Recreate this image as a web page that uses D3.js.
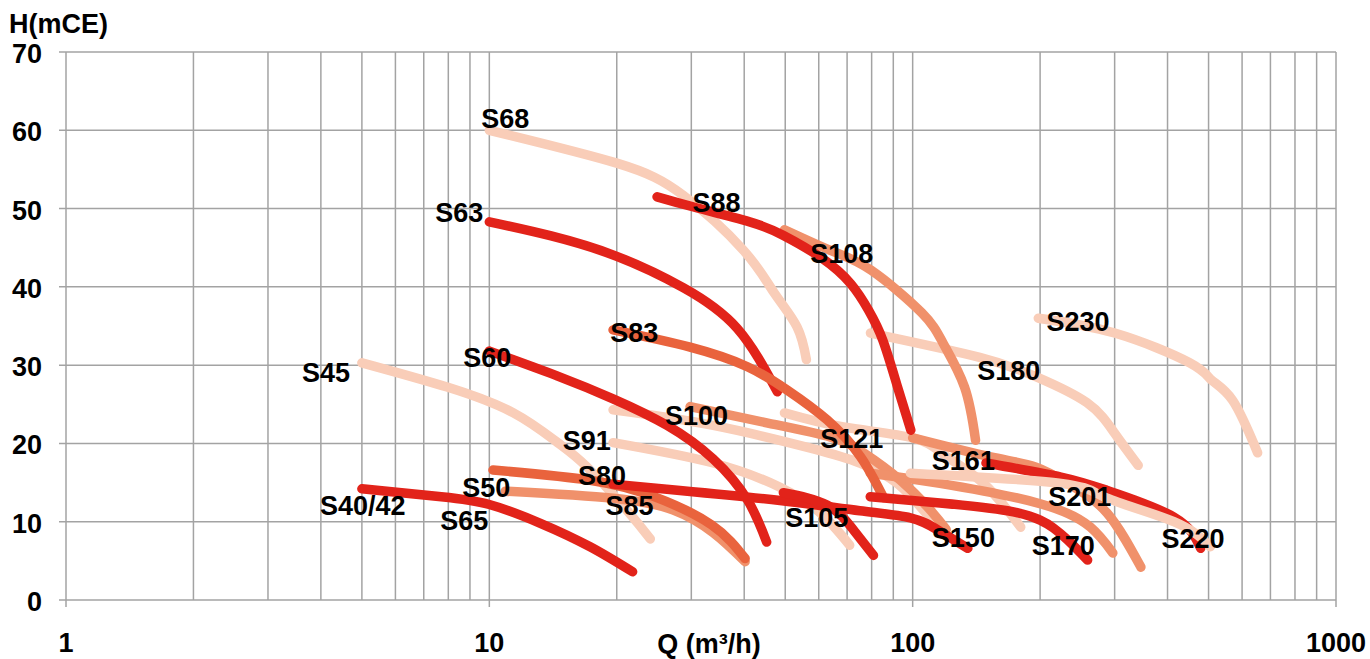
<!DOCTYPE html>
<html>
<head>
<meta charset="utf-8">
<script src="https://cdn.jsdelivr.net/npm/d3@7"></script>
<style>
  html, body { margin: 0; padding: 0; background: #ffffff; }
  svg { display: block; }
  text { font-family: "Liberation Sans", Arial, Helvetica, sans-serif; font-weight: bold; fill: #000; }
</style>
</head>
<body>
<svg id="chart" width="1370" height="659"></svg>
<script>
// ---------------- data ----------------
const xTicks = [1, 10, 100, 1000];
const yTicks = [0, 10, 20, 30, 40, 50, 60, 70];
const yTitle = "H(mCE)";
const xTitle = "Q (m³/h)";

// curve colours (by family)
const RED = "#e2231a", ORANGE = "#e9633d", SALMON = "#f0916b", PEACH = "#f9cdb8";

// pump curves: [Q (m3/h), H (mCE)]
const s45     = [[5,30.3],[7.95,27.2],[11.4,23.9],[14.5,20.1],[17,17],[21.1,11.5],[24,7.8]];
const s68     = [[10,60],[20,55.8],[28.7,51.7],[39.8,44.7],[47,39.3],[53.3,34.9],[56.1,30.7]];
const s91     = [[19.6,20.1],[33.8,17.5],[48.6,14.4],[60.6,11.1],[71,7.0]];
const s100p   = [[19.6,24.3],[33.8,22.3],[58.3,19.3],[75,17.5],[91.9,14.9],[111,10.2]];
const s121    = [[49.8,23.9],[68.6,22.1],[100,20.7],[119,18.5],[147,14.9],[180,9.3]];
const s180    = [[79.5,34.1],[144,31.0],[196,28.5],[258,25.2],[300,21.3],[341,17.2]];
const s230    = [[198,36.0],[300,34.1],[451,30.3],[508,28.1],[570,25.5],[653,18.8]];
const s50     = [[10.9,13.9],[19.6,13.0],[27.2,11.5],[33.8,8.6],[40.2,4.9]];
const s100s   = [[29.8,24.7],[45.5,22.6],[64,20.8],[76.5,18.8],[93.5,15.3],[110,11.5],[120,9.0]];
const s108    = [[49.8,47.3],[65,44.5],[79.9,42.1],[105,36.7],[118,32.8],[132.6,27.2],[140.8,20.4]];
const s161    = [[100,20.7],[152,18.3],[195,17.0],[236,14.7],[288,11.1],[346,4.2]];
const s201    = [[79.4,16.2],[116,14.9],[200,12.3],[263,9.3],[297,6.0]];
const s80o    = [[10.2,16.6],[17.3,15.3],[24.5,13.2],[33.5,9.6],[40.2,5.3]];
const s4042   = [[5,14.2],[7.7,13.2],[10,12.2],[13.2,9.8],[17.3,6.8],[21.8,3.6]];
const s60     = [[10,31.8],[14.5,28.6],[19.6,25.7],[26.3,22.3],[33.8,18.0],[40.7,12.8],[45.2,7.4]];
const s63     = [[10,48.3],[14,46.5],[20,43.9],[28.7,39.9],[38.5,34.7],[47.9,26.6]];
const s83     = [[19.6,34.5],[29.8,32.3],[40.7,29.8],[50.6,26.8],[62.8,23.0],[75.3,18.3],[85.3,13.1]];
const s88     = [[24.9,51.5],[30.4,50.2],[41.2,48.3],[49.4,46.6],[60.9,43.7],[71.4,40.4],[78.7,37.0],[85,33.2],[92,27.3],[99,21.7]];
const s85r    = [[19.6,14.8],[28.2,14.0],[48.6,12.7],[75,11.4],[98.8,10.5],[115,8.9],[135,6.6]];
const s105    = [[49.5,13.7],[62.9,12.1],[72.6,8.9],[80.8,5.7]];
const s170    = [[79.4,13.2],[116,12.4],[167.5,11.4],[200,10.2],[215,9.2],[232,7.7],[259,5.1]];
const s220r   = [[149,17.5],[224,15.7],[288,14.0],[414,10.6],[479,6.6]];
const s220p   = [[98.8,16.2],[224,14.9],[288,13.0],[414,10.0],[505,6.8]];

// draw order (first = bottom)
const curves = [
  {name:"S45",  color:PEACH,  pts:s45},
  {name:"S68",  color:PEACH,  pts:s68},
  {name:"S91",  color:PEACH,  pts:s91},
  {name:"S100p",color:PEACH,  pts:s100p},
  {name:"S121", color:PEACH,  pts:s121},
  {name:"S180", color:PEACH,  pts:s180},
  {name:"S230", color:PEACH,  pts:s230},
  {name:"S50",  color:SALMON, pts:s50},
  {name:"S100s",color:SALMON, pts:s100s},
  {name:"S108", color:SALMON, pts:s108},
  {name:"S161", color:SALMON, pts:s161},
  {name:"S201", color:SALMON, pts:s201},
  {name:"S80",  color:ORANGE, pts:s80o},
  {name:"S40/42",color:RED,   pts:s4042},
  {name:"S60",  color:RED,    pts:s60},
  {name:"S63",  color:RED,    pts:s63},
  {name:"S83",  color:ORANGE, pts:s83},
  {name:"S88",  color:RED,    pts:s88},
  {name:"S85",  color:RED,    pts:s85r},
  {name:"S105", color:RED,    pts:s105},
  {name:"S170", color:RED,    pts:s170},
  {name:"S220r",color:RED,    pts:s220r},
  {name:"S220p",color:PEACH,  pts:s220p}
];

// curve labels: text, anchor Q, anchor H (text baseline, left aligned)
const labelText = ["S68","S63","S88","S108","S230","S83","S180","S45","S60","S100","S91","S121","S161","S80","S50","S201","S85","S40/42","S65","S105","S150","S170","S220"];
const labelQ    = [9.57, 7.45, 30.2, 57.3, 207, 19.3, 142, 3.61, 8.68, 26.0, 14.9, 60.5, 111, 16.2, 8.63, 209, 18.8, 3.98, 7.66, 50.0, 111, 191, 387];
const labelH    = [60.3, 48.3, 49.5, 43.1, 34.4, 32.9, 28.1, 27.9, 29.7, 22.4, 19.2, 19.4, 16.6, 14.7, 13.2, 12.0, 10.9, 10.9, 9.0, 9.35, 6.8, 5.8, 6.7];

// ---------------- chart ----------------
const svg = d3.select("#chart");
const x = d3.scaleLog().domain([1, 1000]).range([66, 1336]);
const y = d3.scaleLinear().domain([0, 70]).range([600, 52]);

const GRID = "#a3a3a3";

// minor + major vertical gridlines
const vLines = [];
for (let d = 1; d < 1000; d *= 10) for (let k = 1; k < 10; k++) vLines.push(d * k);
vLines.push(1000);
svg.append("g").selectAll("line").data(vLines).join("line")
  .attr("x1", d => x(d)).attr("x2", d => x(d))
  .attr("y1", y(70)).attr("y2", y(0))
  .attr("stroke", GRID).attr("stroke-width", 1.5);

// horizontal gridlines (with left tick stubs)
svg.append("g").selectAll("line").data(yTicks).join("line")
  .attr("x1", x(1) - 7).attr("x2", x(1000))
  .attr("y1", d => y(d)).attr("y2", d => y(d))
  .attr("stroke", GRID).attr("stroke-width", 1.5);

// bottom major ticks
svg.append("g").selectAll("line").data(xTicks).join("line")
  .attr("x1", d => x(d)).attr("x2", d => x(d))
  .attr("y1", y(0)).attr("y2", y(0) + 7)
  .attr("stroke", GRID).attr("stroke-width", 1.5);

// tick labels
svg.append("g").selectAll("text").data(yTicks).join("text")
  .attr("x", 42).attr("y", d => y(d) + 11)
  .attr("text-anchor", "end").style("font-size", "27px")
  .text(d => d);
svg.append("g").selectAll("text").data(xTicks).join("text")
  .attr("x", d => x(d)).attr("y", 652)
  .attr("text-anchor", "middle").style("font-size", "27px")
  .text(d => d);

// titles
svg.append("text").attr("x", 9).attr("y", 33).style("font-size", "27px").text(yTitle);
svg.append("text").attr("x", 709).attr("y", 653).attr("text-anchor", "middle").style("font-size", "27px").text(xTitle);

// curves
const line = d3.line().x(d => x(d[0])).y(d => y(d[1])).curve(d3.curveNatural);
svg.append("g").selectAll("path").data(curves).join("path")
  .attr("d", d => line(d.pts))
  .attr("fill", "none")
  .attr("stroke", d => d.color)
  .attr("stroke-width", 9.5)
  .attr("stroke-linecap", "round")
  .attr("stroke-linejoin", "round");

// labels
svg.append("g").selectAll("text").data(labelText).join("text")
  .attr("x", (d, i) => x(labelQ[i]))
  .attr("y", (d, i) => y(labelH[i]))
  .style("font-size", "27px")
  .text(d => d);
</script>
</body>
</html>
